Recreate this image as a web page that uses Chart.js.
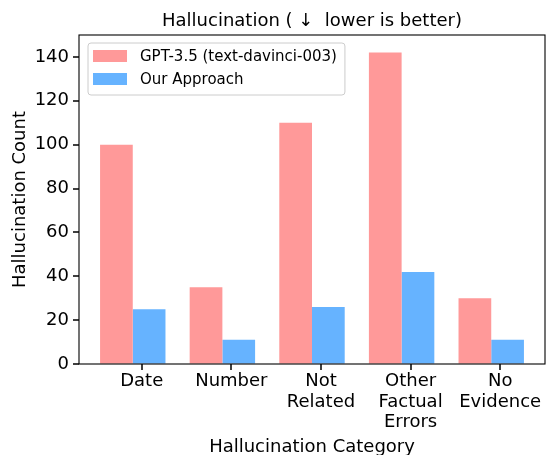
<!DOCTYPE html>
<html>
<head>
<meta charset="utf-8">
<script src="https://cdn.jsdelivr.net/npm/chart.js@4/dist/chart.umd.min.js"></script>
<style>
  html, body { margin: 0; padding: 0; background: #fff; }
  #wrap { width: 548px; height: 455px; position: relative; }
</style>
</head>
<body>
<div id="wrap"><canvas id="c"></canvas></div>
<script>
// ---- data ----
const categories = [["Date"], ["Number"], ["Not", "Related"], ["Other", "Factual", "Errors"], ["No", "Evidence"]];
const gptValues = [100, 35, 110, 142, 30];
const oursValues = [25, 11, 26, 42, 11];
const seriesNames = ["GPT-3.5 (text-davinci-003)", "Our Approach"];
const yTicks = [0, 20, 40, 60, 80, 100, 120, 140];
const titleText = "Hallucination ( \u2193  lower is better)";
const xTitle = "Hallucination Category";
const yTitle = "Hallucination Count";

const FONT = "'DejaVu Sans', sans-serif";
const tickShift = 0.1;
const TICK_LEN = 5;

const frame = {
  id: 'frame',
  afterDraw(chart) {
    const {ctx, chartArea: a} = chart;
    ctx.save();
    ctx.strokeStyle = '#000';
    ctx.lineWidth = 1.1;
    ctx.strokeRect(a.left, a.top, a.right - a.left, a.bottom - a.top);
    const xs = chart.scales.x, ys = chart.scales.y;
    ctx.fillStyle = '#000';
    xs.ticks.forEach(t => {
      const px = Math.round(xs.getPixelForValue(t.value));
      ctx.fillRect(px - 0.75, a.bottom, 1.5, TICK_LEN + 1);
    });
    ys.ticks.forEach(t => {
      const py = Math.round(ys.getPixelForValue(t.value));
      ctx.fillRect(a.left - TICK_LEN - 1, py - 0.75, TICK_LEN + 1, 1.5);
    });
    ctx.restore();
  }
};

const legendBox = {
  id: 'legendBox',
  afterDraw(chart) {
    const {ctx, chartArea: a} = chart;
    ctx.save();
    ctx.font = '15px ' + FONT;
    const x0 = a.left + 9, y0 = a.top + 8;
    const textX = x0 + 52;
    let maxW = 0;
    chart.data.datasets.forEach(ds => { maxW = Math.max(maxW, ctx.measureText(ds.label).width); });
    const w = 52 + maxW + 8, h = 52, r = 3;
    ctx.beginPath();
    ctx.moveTo(x0 + r, y0);
    ctx.arcTo(x0 + w, y0, x0 + w, y0 + h, r);
    ctx.arcTo(x0 + w, y0 + h, x0, y0 + h, r);
    ctx.arcTo(x0, y0 + h, x0, y0, r);
    ctx.arcTo(x0, y0, x0 + w, y0, r);
    ctx.closePath();
    ctx.fillStyle = 'rgba(255,255,255,0.8)';
    ctx.fill();
    ctx.strokeStyle = '#cccccc';
    ctx.lineWidth = 1;
    ctx.stroke();
    chart.data.datasets.forEach((ds, i) => {
      const cy = y0 + 13 + i * 23;
      ctx.fillStyle = ds.backgroundColor;
      ctx.fillRect(x0 + 5, cy - 6, 34, 12);
      ctx.fillStyle = '#000';
      ctx.textBaseline = 'middle';
      ctx.textAlign = 'left';
      ctx.fillText(ds.label, textX, cy + 1);
    });
    ctx.restore();
  }
};

new Chart(document.getElementById('c'), {
  type: 'bar',
  data: {
    datasets: [
      { label: seriesNames[0], data: gptValues.map((v, i) => ({x: i, y: v})), backgroundColor: '#FF9999',
        categoryPercentage: 0.73, barPercentage: 1.0 },
      { label: seriesNames[1], data: oursValues.map((v, i) => ({x: i, y: v})), backgroundColor: '#66B3FF',
        categoryPercentage: 0.73, barPercentage: 1.0 }
    ]
  },
  options: {
    responsive: true,
    maintainAspectRatio: false,
    animation: false,
    layout: { padding: { left: 0, right: 3, top: 0, bottom: 0 } },
    plugins: {
      legend: { display: false },
      tooltip: { enabled: false },
      title: {
        display: true, text: titleText, fullSize: false, color: '#000',
        font: { family: FONT, size: 18, weight: 'normal', lineHeight: 1.2 },
        padding: { top: 11, bottom: 2.4 }
      }
    },
    scales: {
      x: {
        type: 'linear', min: -0.6, max: 4.6, offset: false,
        afterBuildTicks: s => { s.ticks = categories.map((c, i) => ({ value: i + tickShift })); },
        afterFit: s => { s.height = 91; },
        grid: { display: true, offset: false, drawOnChartArea: false, drawTicks: true, tickLength: TICK_LEN, tickColor: 'rgba(0,0,0,0)' },
        border: { display: false },
        ticks: {
          autoSkip: false, maxRotation: 0, minRotation: 0, padding: 2, color: '#000',
          font: { family: FONT, size: 18, lineHeight: 1.15 },
          callback: (v, i) => categories[i]
        },
        title: { display: true, text: xTitle, color: '#000', font: { family: FONT, size: 18, lineHeight: 1.2 }, padding: { top: 0, bottom: -3 } }
      },
      y: {
        min: 0, max: 150,
        afterBuildTicks: s => { s.ticks = yTicks.map(v => ({ value: v })); },
        afterFit: s => { s.width = 79; },
        grid: { display: true, drawOnChartArea: false, drawTicks: true, tickLength: TICK_LEN, tickColor: 'rgba(0,0,0,0)' },
        border: { display: false },
        ticks: { padding: 5, color: '#000', font: { family: FONT, size: 18 }, callback: v => String(v) },
        title: { display: true, text: yTitle, color: '#000', font: { family: FONT, size: 18, lineHeight: 1.2 }, padding: { top: 10, bottom: 0 } }
      }
    }
  },
  plugins: [frame, legendBox]
});
</script>
</body>
</html>
